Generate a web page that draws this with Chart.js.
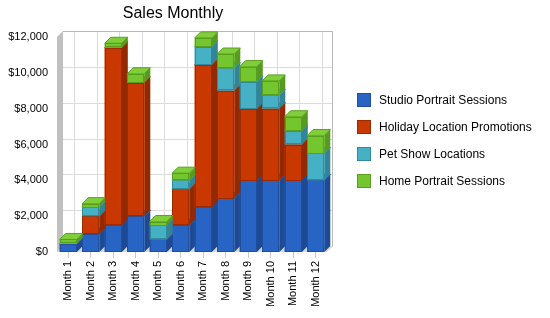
<!DOCTYPE html>
<html>
<head>
<meta charset="utf-8">
<script src="https://cdn.jsdelivr.net/npm/chart.js@4"></script>
<style>
  html, body { margin: 0; padding: 0; background: #fff; }
</style>
</head>
<body>
<canvas id="salesChart" width="550" height="318"></canvas>
<script>
const months = ["Month 1", "Month 2", "Month 3", "Month 4", "Month 5", "Month 6",
                "Month 7", "Month 8", "Month 9", "Month 10", "Month 11", "Month 12"];
const studioPortrait = [450, 1000, 1500, 2000, 700, 1500, 2500, 3000, 4000, 4000, 4000, 4000];
const holidayLocation = [0, 1000, 9900, 7450, 0, 2000, 7950, 6000, 4000, 4000, 2000, 0];
const petShow = [0, 500, 0, 0, 800, 500, 1000, 1250, 1500, 750, 750, 1500];
const homePortrait = [250, 200, 250, 500, 200, 400, 500, 800, 850, 800, 800, 1000];
const yTicks = [0, 2000, 4000, 6000, 8000, 10000, 12000];

// front, side, top, border
const palette = [
    ["#2864c4", "#1d4a92", "#3a74d0", "#1f4f9e"],
    ["#c83800", "#922900", "#d4480e", "#9c2c00"],
    ["#46b0c4", "#338496", "#58bccf", "#338a9c"],
    ["#74c62e", "#579a22", "#80cf3a", "#5a9e20"]
];
const DEPTH = 6;
const FONT = "'Liberation Sans', Arial, sans-serif";

// back wall, left wall, floor and grid drawn in pseudo 3D
const wallPlugin = {
    id: "walls",
    beforeDatasetsDraw(chart) {
        const { ctx, chartArea: a, scales } = chart;
        const d = DEPTH;
        ctx.save();
        // back wall
        ctx.fillStyle = "#ffffff";
        ctx.fillRect(a.left + d, a.top - d, a.right - a.left, a.bottom - a.top);
        ctx.strokeStyle = "#dcdcdc";
        ctx.lineWidth = 1;
        scales.y.ticks.forEach(t => {
            const y = Math.round(scales.y.getPixelForValue(t.value) - d) + 0.5;
            ctx.beginPath();
            ctx.moveTo(a.left + d, y);
            ctx.lineTo(a.right + d, y);
            ctx.stroke();
        });
        months.forEach((m, i) => {
            const x = Math.round(scales.x.getPixelForValue(i) + d) + 0.5;
            ctx.beginPath();
            ctx.moveTo(x, a.top - d);
            ctx.lineTo(x, a.bottom - d);
            ctx.stroke();
        });
        ctx.strokeStyle = "#b8b8b8";
        ctx.beginPath();
        ctx.moveTo(a.left + d, a.top - d + 0.5);
        ctx.lineTo(a.right + d - 0.5, a.top - d + 0.5);
        ctx.lineTo(a.right + d - 0.5, a.bottom - d);
        ctx.stroke();
        // left wall
        ctx.fillStyle = "#c0c0c0";
        ctx.beginPath();
        ctx.moveTo(a.left, a.top);
        ctx.lineTo(a.left + d, a.top - d);
        ctx.lineTo(a.left + d, a.bottom - d);
        ctx.lineTo(a.left, a.bottom);
        ctx.closePath();
        ctx.fill();
        // floor
        ctx.fillStyle = "#d8d8d8";
        ctx.beginPath();
        ctx.moveTo(a.left, a.bottom);
        ctx.lineTo(a.left + d, a.bottom - d);
        ctx.lineTo(a.right + d, a.bottom - d);
        ctx.lineTo(a.right, a.bottom);
        ctx.closePath();
        ctx.fill();
        ctx.restore();
    }
};

// boxes with side and top faces
const barPlugin = {
    id: "bars3d",
    afterDatasetsDraw(chart) {
        const ctx = chart.ctx;
        const d = DEPTH;
        ctx.save();
        chart.data.datasets.forEach((ds, di) => {
            const meta = chart.getDatasetMeta(di);
            const c = palette[di];
            meta.data.forEach(bar => {
                const p = bar.getProps(["x", "y", "base", "width"], true);
                const top = Math.min(p.y, p.base);
                const bottom = Math.max(p.y, p.base);
                if (bottom - top < 0.5) return;
                const l = p.x - p.width / 2;
                const r = p.x + p.width / 2;
                // side
                ctx.fillStyle = c[1];
                ctx.beginPath();
                ctx.moveTo(r, top);
                ctx.lineTo(r + d, top - d);
                ctx.lineTo(r + d, bottom - d);
                ctx.lineTo(r, bottom);
                ctx.closePath();
                ctx.fill();
                // top
                ctx.fillStyle = c[2];
                ctx.strokeStyle = c[3];
                ctx.lineWidth = 1;
                ctx.beginPath();
                ctx.moveTo(l, top);
                ctx.lineTo(l + d, top - d);
                ctx.lineTo(r + d, top - d);
                ctx.lineTo(r, top);
                ctx.closePath();
                ctx.fill();
                ctx.stroke();
                // front
                ctx.fillStyle = c[0];
                ctx.fillRect(l, top, r - l, bottom - top);
                ctx.strokeRect(Math.round(l) + 0.5, Math.round(top) + 0.5, Math.round(r - l) - 1, Math.round(bottom - top) - 1);
            });
        });
        ctx.restore();
    }
};

// title and legend as canvas text
const textPlugin = {
    id: "texts",
    afterDraw(chart) {
        const ctx = chart.ctx;
        ctx.save();
        ctx.fillStyle = "#000";
        ctx.font = "16px " + FONT;
        ctx.textAlign = "center";
        ctx.textBaseline = "alphabetic";
        ctx.fillText("Sales Monthly", 173, 18);

        ctx.font = "12px " + FONT;
        ctx.textAlign = "left";
        ctx.textBaseline = "middle";
        chart.data.datasets.forEach((ds, i) => {
            const y = 100 + i * 27;
            ctx.fillStyle = palette[i][0];
            ctx.fillRect(357, y - 7, 14, 14);
            ctx.strokeStyle = palette[i][3];
            ctx.strokeRect(357.5, y - 6.5, 13, 13);
            ctx.fillStyle = "#000";
            ctx.fillText(ds.label, 379, y + 1);
        });
        ctx.restore();
    }
};

const seriesNames = ["Studio Portrait Sessions", "Holiday Location Promotions", "Pet Show Locations", "Home Portrait Sessions"];
const seriesValues = [studioPortrait, holidayLocation, petShow, homePortrait];

new Chart(document.getElementById("salesChart"), {
    type: "bar",
    data: {
        labels: months,
        datasets: seriesNames.map((name, i) => ({
            label: name,
            data: seriesValues[i],
            backgroundColor: palette[i][0],
            borderWidth: 0,
            barPercentage: 0.76,
            categoryPercentage: 1
        }))
    },
    options: {
        responsive: false,
        animation: false,
        layout: { padding: { left: 0, right: 223, top: 37, bottom: 0 } },
        plugins: {
            legend: { display: false },
            title: { display: false },
            tooltip: { enabled: false }
        },
        scales: {
            x: {
                stacked: true,
                offset: true,
                border: { display: false },
                grid: {
                    offset: false,
                    drawOnChartArea: false,
                    drawTicks: true,
                    tickLength: 6,
                    color: "#c8c8c8"
                },
                ticks: {
                    minRotation: 90,
                    maxRotation: 90,
                    padding: 3,
                    color: "#000",
                    font: { family: FONT, size: 11 }
                },
                afterFit(scale) { scale.height = 66; }
            },
            y: {
                stacked: true,
                min: 0,
                max: 12000,
                border: { display: false },
                grid: { display: false, drawTicks: false },
                afterBuildTicks(scale) { scale.ticks = yTicks.map(v => ({ value: v })); },
                ticks: {
                    padding: 9,
                    color: "#000",
                    font: { family: FONT, size: 11 },
                    callback: v => "$" + v.toLocaleString("en-US")
                },
                afterFit(scale) { scale.width = 57; }
            }
        }
    },
    plugins: [wallPlugin, barPlugin, textPlugin]
});
</script>
</body>
</html>
